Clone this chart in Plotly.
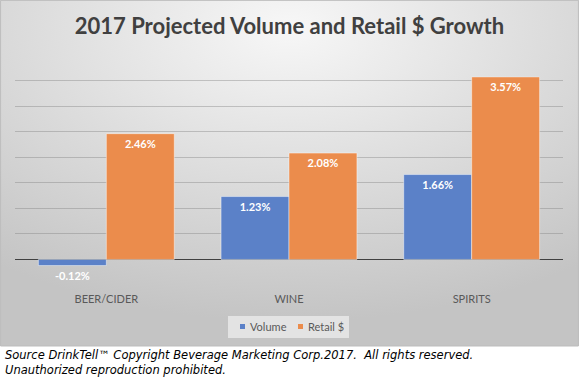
import base64
import plotly.graph_objects as go

categories = ["BEER/CIDER", "WINE", "SPIRITS"]
volume = [-0.12, 1.23, 1.66]
retail = [2.46, 2.08, 3.57]
series_names = ["Volume", "Retail $"]
series_colors = ["#5b81c8", "#eb8c4c"]
title_text = "2017 Projected Volume and Retail $ Growth"
source_lines = [
    "Source DrinkTell™ Copyright Beverage Marketing Corp.2017.  All rights reserved.",
    "Unauthorized reproduction prohibited.",
]

W, H = 579, 383
BOX_H = 346

svg = f'''<svg xmlns="http://www.w3.org/2000/svg" width="{W}" height="{BOX_H}" viewBox="0 0 {W} {BOX_H}" preserveAspectRatio="none">
<defs><radialGradient id="g" cx="50%" cy="8%" r="85%" fx="50%" fy="8%">
<stop offset="0%" stop-color="#f7f7f7"/><stop offset="100%" stop-color="#c4c4c4"/></radialGradient></defs>
<rect x="0" y="0" width="{W}" height="{BOX_H}" fill="url(#g)"/></svg>'''
src = "data:image/svg+xml;base64," + base64.b64encode(svg.encode()).decode()

fmt = lambda v: f"{v:.2f}%"
label_font = dict(color="white", size=11, family="Lato", weight="bold")

fig = go.Figure()
fig.add_trace(go.Bar(
    x=categories, y=volume, name=series_names[0],
    marker=dict(color=series_colors[0], line=dict(color="rgba(255,255,255,0.45)", width=1)),
    text=[fmt(v) for v in volume],
    textposition=["outside" if v < 0 else "inside" for v in volume],
    insidetextanchor="end",
    textfont=label_font,
    outsidetextfont=label_font,
    cliponaxis=False,
))
fig.add_trace(go.Bar(
    x=categories, y=retail, name=series_names[1],
    marker=dict(color=series_colors[1], line=dict(color="rgba(255,255,255,0.45)", width=1)),
    text=[fmt(v) for v in retail],
    textposition="inside",
    insidetextanchor="end",
    textfont=label_font,
    cliponaxis=False,
))

px = lambda x: x / W
py = lambda y: (H - y) / H

# legend (custom, compact like the original)
shapes = [
    dict(type="rect", xref="paper", yref="paper", x0=0.001, x1=0.999, y0=1 - BOX_H / H, y1=0.999,
         line=dict(color="#bdbdbd", width=1), layer="below"),
    dict(type="rect", xref="paper", yref="paper", x0=px(228), x1=px(349), y0=py(338), y1=py(316),
         fillcolor="#e3e3e3", line=dict(width=0), layer="below"),
]
annotations = []
legend_items = [(240, 248), (298, 306)]
for (sx, tx), name, col in zip(legend_items, series_names, series_colors):
    shapes.append(dict(type="rect", xref="paper", yref="paper", x0=px(sx), x1=px(sx + 5),
                       y0=py(329), y1=py(324), fillcolor=col, line=dict(width=0)))
    annotations.append(dict(text=name, xref="paper", yref="paper", x=px(tx), xanchor="left",
                            y=py(326.5), yanchor="middle", showarrow=False,
                            font=dict(size=11, color="#595959", family="Lato")))

for i, line in enumerate(source_lines):
    annotations.append(dict(text=line, xref="paper", yref="paper", x=px(3), xanchor="left",
                            y=py(355 + 15 * i), yanchor="middle", showarrow=False,
                            font=dict(family="DejaVu Sans", size=11.5, color="black", style="italic")))

fig.update_layout(
    width=W, height=H,
    margin=dict(l=0, r=0, t=0, b=0),
    paper_bgcolor="white",
    plot_bgcolor="rgba(0,0,0,0)",
    barmode="group",
    bargap=0.256,
    bargroupgap=0.0,
    showlegend=False,
    font=dict(family="Lato", color="#595959"),
    title=dict(text=title_text, x=0.5, xanchor="center", y=1 - 26 / H, yanchor="middle",
               font=dict(family="Lato", size=22, color="#404040", weight="bold")),
    xaxis=dict(domain=[15 / W, 563 / W], showgrid=False, showline=False, ticks="",
               ticklabelstandoff=6,
               tickfont=dict(size=11, color="#595959", family="Lato")),
    yaxis=dict(domain=[(H - 285) / H, (H - 76.4) / H], range=[-0.5, 3.58],
               tick0=0, dtick=0.5, showticklabels=False, ticks="",
               gridcolor="rgba(128,128,128,0.4)", gridwidth=1,
               zeroline=True, zerolinecolor="#404040", zerolinewidth=1),
    images=[dict(source=src, xref="paper", yref="paper", x=0, y=1, sizex=1, sizey=BOX_H / H,
                 xanchor="left", yanchor="top", sizing="stretch", layer="below")],
    shapes=shapes,
    annotations=annotations,
)

fig.write_html("out.html", config={"displayModeBar": False},
               post_script="document.body.style.margin='0';document.body.style.overflow='hidden';")
